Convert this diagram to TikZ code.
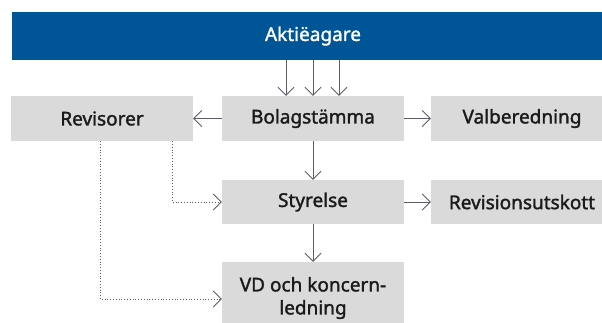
\documentclass[tikz,border=0pt]{standalone}
\usepackage{fontspec}
\setmainfont{Noto Sans}
\newfontfamily\boxfont{Noto Sans}[FakeBold=1.6]
\usetikzlibrary{arrows.meta}
\definecolor{barblue}{HTML}{005596}
\definecolor{boxgray}{HTML}{DADADA}
\definecolor{linegray}{HTML}{5A5D66}
\definecolor{textdark}{HTML}{1A1A1A}
\begin{document}
\begin{tikzpicture}[x=1pt,y=-1pt,
                    font=\boxfont\fontsize{19}{23}\selectfont,
                    box/.style={fill=boxgray,text=textdark,minimum width=182pt,minimum height=45pt,inner sep=0pt,align=center},
                    arr/.style={draw=linegray,line width=0.8pt,-{Straight Barb[length=8pt,width=16pt,line width=0.8pt]}},
                    dots/.style={arr,dotted}
                   ]
  \useasboundingbox (0,0) rectangle (602,322);
  \clip (0,0) rectangle (602,322);
  \node[fill=barblue,text=white,minimum width=602pt,minimum height=48pt,inner sep=0pt] (akt) at (313,36) {Akti\"eagare};
  \node[box] (rev) at (102,118.5) {Revisorer};
  \node[box] (bol) at (313,118.5) {Bolagst\"amma};
  \node[box] (val) at (522,118.5) {Valberedning};
  \node[box,minimum height=44pt] (sty) at (313,202) {Styrelse};
  \node[box,minimum height=44pt] (rut) at (522,202) {Revisionsutskott};
  \node[box,minimum height=72pt] (vd) at (313,298) {VD och koncern-\\ledning};

  \draw[arr] ([xshift=-27pt]akt.south) -- ([xshift=-27pt]bol.north);
  \draw[arr] (akt.south) -- (bol.north);
  \draw[arr] ([xshift=26pt]akt.south) -- ([xshift=26pt]bol.north);
  \draw[arr] (bol) -- (rev);
  \draw[arr] (bol) -- (val);
  \draw[arr] (bol) -- (sty);
  \draw[arr] (sty) -- (rut);
  \draw[arr] (sty) -- (vd);
  \draw[dots] ([xshift=70pt]rev.south) |- (sty.west);
  \draw[dots] ([xshift=-2pt]rev.south) |- ([yshift=-1pt]vd.west);
\end{tikzpicture}
\end{document}
